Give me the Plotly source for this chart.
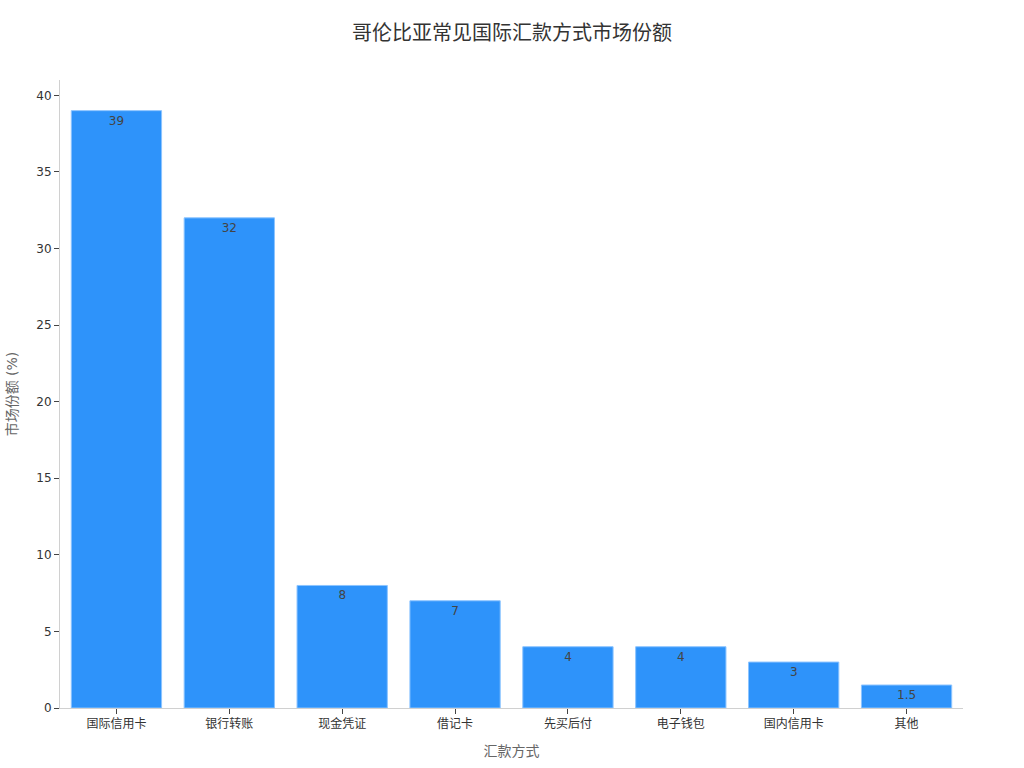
import plotly.graph_objects as go

# 汇款方式及市场份额 (%)
methods = ['国际信用卡', '银行转账', '现金凭证', '借记卡', '先买后付', '电子钱包', '国内信用卡', '其他']
shares = [39, 32, 8, 7, 4, 4, 3, 1.5]
y_ticks = [0, 5, 10, 15, 20, 25, 30, 35, 40]

FONT = 'DejaVu Sans, Noto Sans CJK SC, sans-serif'

fig = go.Figure()

fig.add_trace(go.Bar(
    x=methods, y=shares,
    text=[str(v) for v in shares],
    textposition='inside',
    insidetextanchor='end',
    textfont=dict(color='#444444', size=12),
    marker=dict(color='#2E93FA', line=dict(color='#8CC4FF', width=1)),
    showlegend=False,
))

fig.update_layout(
    title=dict(text='哥伦比亚常见国际汇款方式市场份额', x=0.5, xanchor='center', y=0.966,
               font=dict(size=20, color='#333333')),
    width=1024, height=768,
    font=dict(family=FONT, size=12, color='#333333'),
    plot_bgcolor='white', paper_bgcolor='white',
    margin=dict(l=60, r=61, t=80, b=60),
    bargap=0.2,
    xaxis=dict(
        title=dict(text='汇款方式', font=dict(size=14, color='#666666')),
        showline=True, linecolor='#d0d0d0', ticks='outside', tickcolor='#444444', ticklen=5,
        showgrid=False,
    ),
    yaxis=dict(
        title=dict(text='市场份额 (%)', font=dict(size=14, color='#666666')),
        range=[0, 41], tickvals=y_ticks,
        showline=True, linecolor='#d0d0d0', ticks='outside', tickcolor='#444444', ticklen=5,
        showgrid=False, zeroline=False,
    ),
)

# 去掉页面默认的 8px 边距，隐藏工具栏
fig.write_html("out.html", config={'displayModeBar': False},
               post_script="document.body.style.margin='0';")
